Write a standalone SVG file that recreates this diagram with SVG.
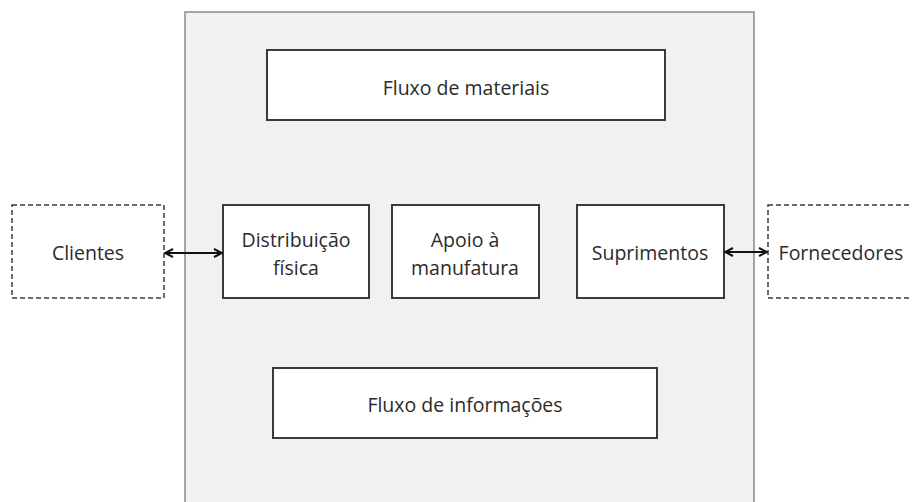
<svg xmlns="http://www.w3.org/2000/svg" width="912" height="502" viewBox="0 0 912 502">
<style>
.box{fill:#fff;stroke:#3a3a3a;stroke-width:2}
.ext{fill:#fff;stroke:#3a3a3a;stroke-width:1.5;stroke-dasharray:5,3}
.t{font-family:"Open Sans","Liberation Sans",sans-serif;font-size:19.5px;fill:#2b2b2b;text-anchor:middle}
.c{stroke:#111;stroke-width:2;fill:none;marker-start:url(#ah);marker-end:url(#ah)}
</style>
<defs>
<marker id="ah" viewBox="0 0 10 10" refX="9" refY="5" markerWidth="10" markerHeight="10" markerUnits="userSpaceOnUse" orient="auto-start-reverse">
<path d="M1,1 L9,5 L1,9" fill="none" stroke="#111" stroke-width="2"/>
</marker>
</defs>
<rect width="912" height="502" fill="#fff"/>
<g id="container"><rect x="185" y="12" width="569" height="500" fill="#f1f1f1" stroke="#8a8a8a" stroke-width="1.5"/></g>
<g id="fluxo-materiais"><rect class="box" x="267" y="50" width="398" height="70"/><text class="t" x="466" y="95">Fluxo de materiais</text></g>
<g id="fluxo-informacoes"><rect class="box" x="273" y="368" width="384" height="70"/><text class="t" x="465" y="412">Fluxo de informações</text></g>
<g id="clientes"><rect class="ext" x="12" y="205" width="152" height="93"/><text class="t" x="88" y="260">Clientes</text></g>
<g id="distribuicao"><rect class="box" x="223" y="205" width="146" height="93"/><text class="t" x="296" y="247">Distribuição</text><text class="t" x="296" y="275">física</text></g>
<g id="apoio"><rect class="box" x="392" y="205" width="147" height="93"/><text class="t" x="465" y="247">Apoio à</text><text class="t" x="465" y="275">manufatura</text></g>
<g id="suprimentos"><rect class="box" x="577" y="205" width="147" height="93"/><text class="t" x="650" y="260">Suprimentos</text></g>
<g id="fornecedores"><rect class="ext" x="768" y="205" width="160" height="93"/><text class="t" x="841" y="260">Fornecedores</text></g>
<g id="connectors">
<line class="c" x1="165" y1="253" x2="222" y2="253"/>
<line class="c" x1="725" y1="252" x2="767" y2="252"/>
</g>
</svg>
